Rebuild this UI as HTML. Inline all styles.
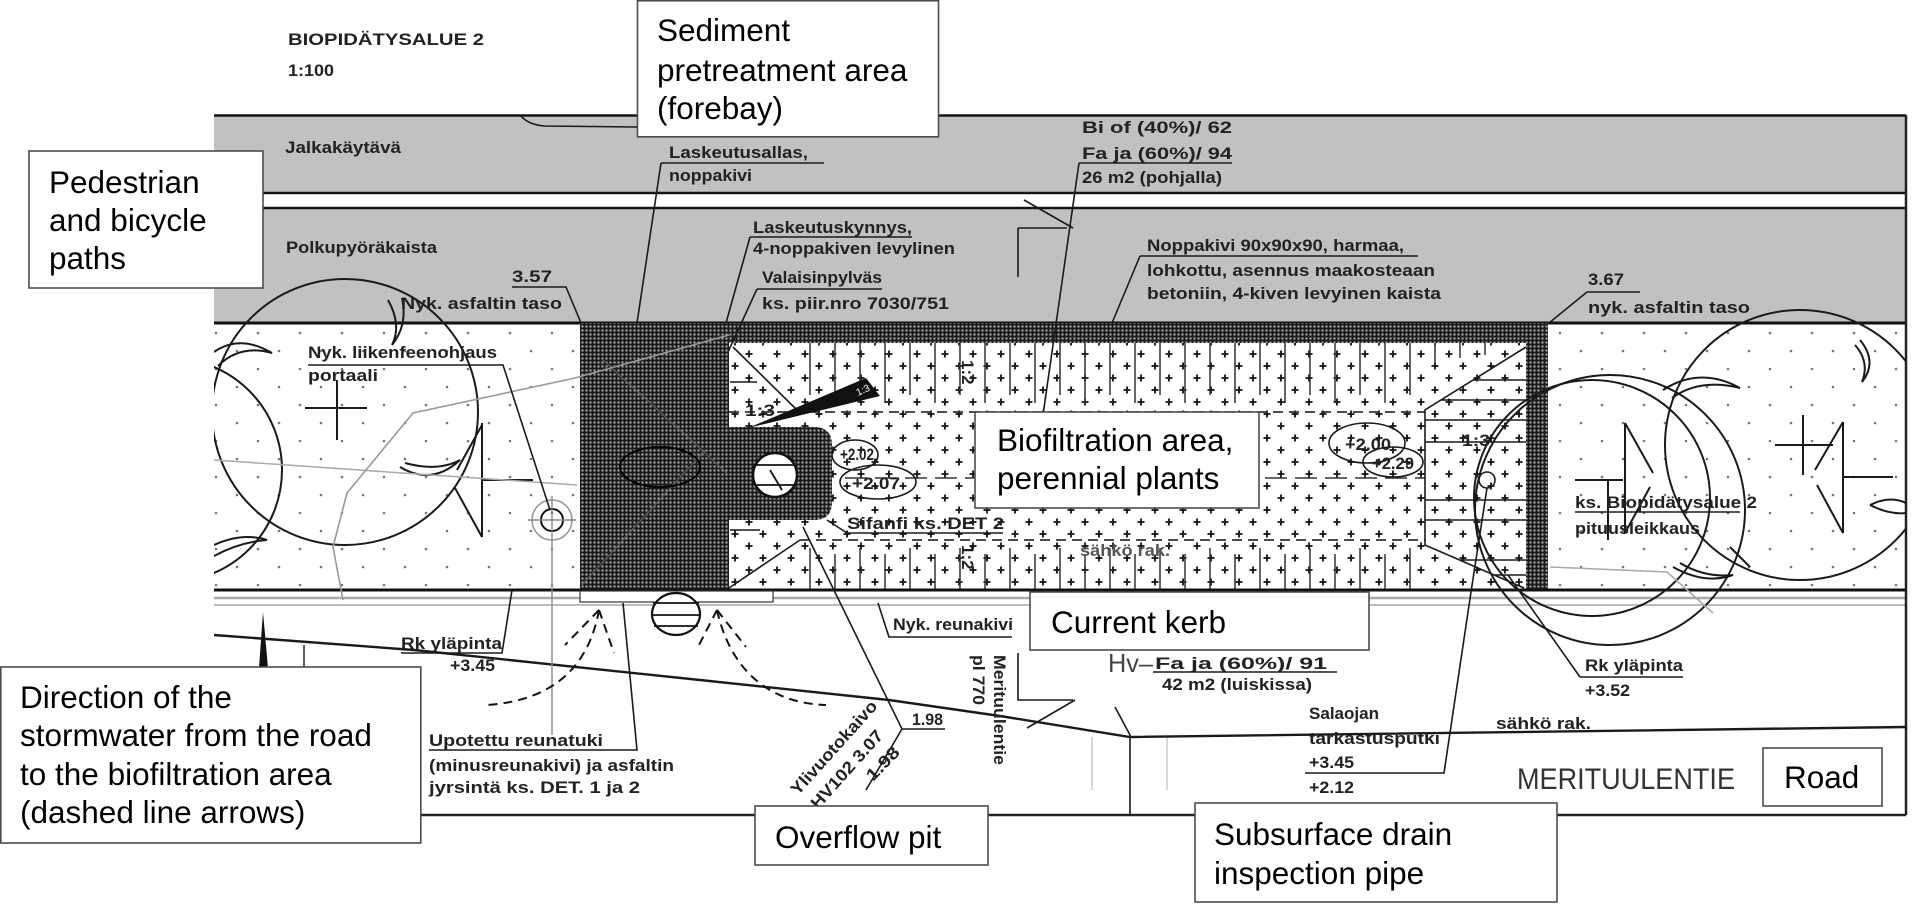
<!DOCTYPE html>
<html><head><meta charset="utf-8"><style>
html,body{margin:0;padding:0;background:#fff;}
svg{display:block;}
.c{font-family:"Liberation Sans",sans-serif;font-weight:bold;font-size:17px;fill:#222;}
.b{font-family:"Liberation Sans",Arial,sans-serif;font-size:31.5px;fill:#000;}
.ln{stroke:#1a1a1a;stroke-width:1.6;fill:none;}
.tr{stroke:#1a1a1a;stroke-width:2;fill:none;}
.box{fill:#fff;stroke:#4d4d4d;stroke-width:1.6;}
</style></head><body>
<svg width="1920" height="911" viewBox="0 0 1920 911" xmlns="http://www.w3.org/2000/svg">
<defs>
<pattern id="mesh" width="4" height="4" patternUnits="userSpaceOnUse"><rect width="4" height="4" fill="#1c1c1c"/><rect x="1.5" y="1.5" width="2" height="2" fill="#b0b0b0"/></pattern>
<pattern id="plus" width="28" height="24" patternUnits="userSpaceOnUse"><path d="M3.5,6h7M7,2.5v7M17.5,18h7M21,14.5v7" stroke="#111" stroke-width="1.8"/></pattern>
<pattern id="dots" width="42" height="36" patternUnits="userSpaceOnUse"><circle cx="6" cy="9" r="1.3" fill="#777"/><circle cx="27" cy="27" r="1.3" fill="#777"/></pattern>
<clipPath id="frame"><rect x="214" y="115" width="1692" height="700"/></clipPath>
</defs>

<!-- gray paths band -->
<rect x="214" y="115" width="1692" height="208" fill="#c1c1c1"/>
<rect x="214" y="194" width="1692" height="13" fill="#fff"/>
<path d="M214,115.5H1906M214,193H1906M214,208H1906" stroke="#151515" stroke-width="2.5"/>
<path d="M214,323H1906" stroke="#111" stroke-width="3"/>
<path d="M520,115 Q528,125 545,126 L637,127" class="ln" stroke-width="1.2"/>

<!-- planting areas -->
<rect x="214" y="324.5" width="366" height="265" fill="url(#dots)"/>
<rect x="1548" y="324.5" width="358" height="265" fill="url(#dots)"/>

<!-- biofilter -->
<rect x="729" y="343" width="797" height="247" fill="#fff"/>
<rect x="729" y="343" width="797" height="247" fill="url(#plus)"/>
<rect x="580" y="323" width="149" height="267" fill="url(#mesh)"/>
<rect x="729" y="323" width="819" height="20" fill="url(#mesh)"/>
<rect x="1526" y="323" width="22" height="267" fill="url(#mesh)"/>
<path d="M603,360 L727,473 M582,585 L705,450" stroke="#555" stroke-width="1.5"/>
<ellipse cx="660" cy="467" rx="40" ry="20" fill="none" stroke="#000" stroke-width="2"/>

<!-- grass lines -->
<path d="M810,343v52M835,343v60M860,343v52M885,343v60M910,343v52M935,343v60M960,343v52M985,343v60M1010,343v52M1035,343v60M1060,343v52M1085,343v60M1110,343v52M1135,343v60M1160,343v52M1185,343v60M1210,343v52M1235,343v60M1260,343v52M1285,343v60M1310,343v52M1335,343v60M1360,343v52M1385,343v60M1410,343v52M1435,343v20M1460,343v15M1485,343v12" stroke="#333" stroke-width="1.5"/>
<path d="M810,590v-42M835,590v-36M860,590v-42M885,590v-36M910,590v-42M935,590v-36M960,590v-42M985,590v-36M1010,590v-42M1035,590v-36M1060,590v-42M1085,590v-36M1110,590v-42M1135,590v-36M1160,590v-42M1185,590v-36M1210,590v-42M1235,590v-36M1260,590v-42M1285,590v-36M1310,590v-42M1335,590v-36M1360,590v-42M1385,590v-36M1410,590v-42" stroke="#333" stroke-width="1.5"/>
<!-- dashed contour lines -->
<path d="M729,412H1425M800,540H1425" stroke="#333" stroke-width="1.8" stroke-dasharray="10,6"/>
<path d="M845,478H1425" stroke="#333" stroke-width="1.6" stroke-dasharray="22,8"/>
<!-- slopes -->
<path d="M733,347 L797,410 M729,588 L800,540 M730,382H757 M730,530H760" class="ln"/>
<path d="M1526,347 L1425,410 V545 L1524,588 M1473,380H1526 M1441,400H1526 M1425,420H1526 M1425,442H1526 M1425,500H1526 M1425,520H1526 M1460,560H1526 M1494,575H1526" class="ln"/>
<text class="c" x="745" y="416" font-size="14" textLength="30" lengthAdjust="spacingAndGlyphs">1:3</text>
<text class="c" x="1462" y="446" font-size="14" textLength="28" lengthAdjust="spacingAndGlyphs">1:3</text>
<text class="c" transform="rotate(90 962 360)" x="962" y="360" font-size="13">1:2</text>
<text class="c" transform="rotate(90 962 545)" x="962" y="545" font-size="13">1:2</text>

<!-- overflow pit -->
<path d="M729,427 H814 Q832,427 832,445 V502 Q832,520 814,520 H729 Z" fill="url(#mesh)"/>
<circle cx="775" cy="475" r="22" fill="#fff" stroke="#111" stroke-width="2.5"/>
<path d="M755,465H795M755,485H795M770,470L782,490" stroke="#111" stroke-width="1.8"/>
<polygon points="748,428 866,378 880,396" fill="#111"/>
<text x="858" y="396" font-family="Liberation Sans" font-size="10" fill="#fff" transform="rotate(-25 858 396)">1:3</text>

<!-- elevation ellipses -->
<ellipse cx="855" cy="455" rx="23" ry="15" class="ln"/>
<ellipse cx="878" cy="482" rx="38" ry="17" class="ln"/>
<text class="c" x="840" y="460" font-size="15" textLength="34" lengthAdjust="spacingAndGlyphs">+2.02</text>
<text class="c" x="852" y="489" font-size="15" textLength="48" lengthAdjust="spacingAndGlyphs">+2.07</text>
<ellipse cx="1367" cy="443" rx="38" ry="20" class="ln"/>
<ellipse cx="1393" cy="462" rx="30" ry="15" class="ln"/>
<text class="c" x="1345" y="450" font-size="16" textLength="46" lengthAdjust="spacingAndGlyphs">+2.00</text>
<text class="c" x="1372" y="469" font-size="14" textLength="42" lengthAdjust="spacingAndGlyphs">+2.29</text>
<circle cx="1487" cy="480" r="8" class="ln"/>

<!-- kerb / frame -->
<path d="M214,590H1906" stroke="#111" stroke-width="3"/>
<path d="M214,598H1906" stroke="#aaa" stroke-width="2.5"/>
<path d="M214,605H1906" stroke="#bbb" stroke-width="2"/>
<rect x="580" y="591" width="193" height="11" fill="#fff" stroke="#333" stroke-width="1.2"/>
<path d="M1906,115V815M214,815H1906" stroke="#222" stroke-width="2.5"/>

<!-- trees -->
<g clip-path="url(#frame)">
<circle cx="345" cy="412" r="133" class="tr"/>
<circle cx="170" cy="470" r="112" class="tr"/>
<path d="M214,352 Q240,334 272,353 Q240,344 218,366" class="tr"/>
<path d="M400,467 Q432,486 460,460 Q438,472 405,463" class="tr"/>
<path d="M214,545 Q242,532 267,540 Q240,542 214,556" class="tr"/>
<path d="M388,300 Q402,325 392,345 Q408,325 402,298" class="tr"/>
<path d="M305,408H367M337,380V440M482,423V537M482,425L457,470M455,488L482,537M482,480H533" class="tr"/>
<circle cx="1610" cy="510" r="135" class="tr"/>
<circle cx="1592" cy="498" r="118" class="tr" stroke-width="1.6"/>
<path d="M1663,390 Q1700,366 1740,388 Q1700,378 1672,398" class="tr"/>
<path d="M1673,567 Q1705,585 1733,575 Q1705,578 1680,563" class="tr"/>
<path d="M1730,547 L1750,567" class="tr"/>
<path d="M1575,480H1623M1608,480V540M1625,423V533M1625,423L1653,473M1650,487L1625,533" class="tr"/>
<circle cx="1800" cy="445" r="135" class="tr"/>
<path d="M1860,340 Q1878,362 1862,382 Q1870,362 1855,345" class="tr"/>
<path d="M1870,505 Q1890,495 1906,503 M1870,505 Q1890,515 1906,513" class="tr"/>
<path d="M1803,415V475M1775,445H1833M1843,422V533M1843,422L1815,470M1817,485L1843,533M1843,477H1893" class="tr"/>
</g>

<!-- faint gray lines -->
<path d="M214,460 L577,485" stroke="#aaa" stroke-width="1.6" fill="none"/>
<path d="M343,600 L333,547 L347,493 L413,413 L575,378 L729,335" stroke="#999" stroke-width="1.6" fill="none"/>
<path d="M1550,567 L1667,572 L1713,613" stroke="#aaa" stroke-width="1.6" fill="none"/>
<path d="M1092,737V790M1167,737V790" stroke="#ccc" stroke-width="1.5"/>

<!-- road area -->
<path d="M214,635 L414,650 L700,680 L889,700 L1000,716 L1130,737 L1906,727" stroke="#1a1a1a" stroke-width="2.4" fill="none"/>
<polygon points="259,668 263,612 268,668" fill="#111"/>
<path d="M304,645V668" stroke="#666" stroke-width="2"/>
<path d="M1115,707 L1130,735 V815" class="ln"/>
<path d="M1018,653V700H1073M1075,700L1027,728" class="ln"/>

<!-- crosshair target -->
<circle cx="552" cy="520" r="20" fill="none" stroke="#999" stroke-width="1.6"/>
<circle cx="552" cy="520" r="11" fill="none" stroke="#111" stroke-width="2"/>
<path d="M528,520H576M552,496V735" stroke="#888" stroke-width="1.4"/>

<!-- dashed arrows -->
<g stroke="#111" stroke-width="2" fill="none" stroke-dasharray="9,6">
<path d="M599,610 C590,660 560,700 487,705"/>
<path d="M599,610 L565,645 M599,610 L614,653"/>
<path d="M717,610 C728,660 760,703 826,705"/>
<path d="M717,610 L699,645 M717,610 L746,647"/>
</g>
<ellipse cx="676" cy="614" rx="24" ry="21" fill="#fff" stroke="#111" stroke-width="2.2"/>
<path d="M653,603H699M652,615H700M654,626H698" stroke="#111" stroke-width="1.8"/>

<!-- leaders -->
<path d="M512,287H566L581,323" class="ln"/>
<path d="M661,163H824M661,163L637,323" class="ln"/>
<path d="M750,237H912M750,237L726,323" class="ln"/>
<path d="M757,289H882M757,289L728,352" class="ln"/>
<path d="M1079,163H1232M1079,163L1043,415" class="ln"/>
<path d="M1018,228V277M1018,228H1067M1024,200L1073,228" class="ln"/>
<path d="M1140,256H1418M1140,256L1112,323" class="ln"/>
<path d="M1587,292H1640M1587,292L1549,323" class="ln"/>
<path d="M308,365H503L550,510" class="ln"/>
<path d="M401,653H502L512,590" class="ln"/>
<path d="M429,750H637L623,603" class="ln"/>
<path d="M878,603L889,637H1012" class="ln"/>
<path d="M803,527L902,729H945M902,729L866,790" class="ln"/>
<path d="M827,520L847,533H1003" class="ln"/>
<path d="M1305,773H1444L1471,592L1487,488" class="ln"/>
<path d="M1580,677H1683M1580,677L1508,575" class="ln"/>
<path d="M1575,512H1740" class="ln" stroke-width="1.2"/>
<path d="M1153,672H1337" class="ln"/>

<!-- CAD text -->
<text class="c" x="288" y="45" font-size="20" textLength="196" lengthAdjust="spacingAndGlyphs">BIOPIDÄTYSALUE 2</text>
<text class="c" x="288" y="76" font-size="20" textLength="46" lengthAdjust="spacingAndGlyphs">1:100</text>
<text class="c" x="285" y="153" textLength="116" lengthAdjust="spacingAndGlyphs">Jalkakäytävä</text>
<text class="c" x="286" y="253" textLength="151" lengthAdjust="spacingAndGlyphs">Polkupyöräkaista</text>
<text class="c" x="512" y="282" textLength="40" lengthAdjust="spacingAndGlyphs">3.57</text>
<text class="c" x="401" y="309" textLength="161" lengthAdjust="spacingAndGlyphs">Nyk. asfaltin taso</text>
<text class="c" x="669" y="158" textLength="139" lengthAdjust="spacingAndGlyphs">Laskeutusallas,</text>
<text class="c" x="669" y="181" textLength="83" lengthAdjust="spacingAndGlyphs">noppakivi</text>
<text class="c" x="753" y="233" textLength="159" lengthAdjust="spacingAndGlyphs">Laskeutuskynnys,</text>
<text class="c" x="753" y="254" textLength="202" lengthAdjust="spacingAndGlyphs">4-noppakiven levylinen</text>
<text class="c" x="762" y="283" textLength="120" lengthAdjust="spacingAndGlyphs">Valaisinpylväs</text>
<text class="c" x="762" y="309" textLength="187" lengthAdjust="spacingAndGlyphs">ks. piir.nro 7030/751</text>
<text class="c" x="1082" y="133" textLength="150" lengthAdjust="spacingAndGlyphs">Bi of (40%)/ 62</text>
<text class="c" x="1082" y="159" textLength="150" lengthAdjust="spacingAndGlyphs">Fa ja (60%)/ 94</text>
<text class="c" x="1082" y="183" textLength="140" lengthAdjust="spacingAndGlyphs">26 m2 (pohjalla)</text>
<text class="c" x="1147" y="251" textLength="257" lengthAdjust="spacingAndGlyphs">Noppakivi 90x90x90, harmaa,</text>
<text class="c" x="1147" y="276" textLength="288" lengthAdjust="spacingAndGlyphs">lohkottu, asennus maakosteaan</text>
<text class="c" x="1147" y="299" textLength="294" lengthAdjust="spacingAndGlyphs">betoniin, 4-kiven levyinen kaista</text>
<text class="c" x="1588" y="285" textLength="36" lengthAdjust="spacingAndGlyphs">3.67</text>
<text class="c" x="1588" y="313" textLength="162" lengthAdjust="spacingAndGlyphs">nyk. asfaltin taso</text>
<text class="c" x="308" y="358" textLength="189" lengthAdjust="spacingAndGlyphs">Nyk. liikenfeenohjaus</text>
<text class="c" x="308" y="381" textLength="70" lengthAdjust="spacingAndGlyphs">portaali</text>
<text class="c" x="1575" y="508" textLength="182" lengthAdjust="spacingAndGlyphs">ks. Biopidätysalue 2</text>
<text class="c" x="1575" y="534" textLength="125" lengthAdjust="spacingAndGlyphs">pituusleikkaus</text>
<text class="c" x="847" y="529" font-size="16" textLength="157" lengthAdjust="spacingAndGlyphs">Sifanfi ks. DET 2</text>
<text class="c" x="1080" y="556" font-size="15" fill="#555" textLength="90" lengthAdjust="spacingAndGlyphs" style="fill:#555">sähkö rak.</text>
<text class="c" x="893" y="630" textLength="120" lengthAdjust="spacingAndGlyphs">Nyk. reunakivi</text>
<text class="c" transform="rotate(90 973 655)" x="973" y="655" font-size="16" textLength="50" lengthAdjust="spacingAndGlyphs">pl 770</text>
<text class="c" transform="rotate(90 994 655)" x="994" y="655" font-size="16" textLength="110" lengthAdjust="spacingAndGlyphs">Merituulentie</text>
<text x="1108" y="672" font-family="Liberation Sans" font-size="26" fill="#444" textLength="45" lengthAdjust="spacingAndGlyphs">Hv–</text>
<text class="c" x="1155" y="669" font-size="17" textLength="172" lengthAdjust="spacingAndGlyphs">Fa ja (60%)/ 91</text>
<text class="c" x="1162" y="690" textLength="150" lengthAdjust="spacingAndGlyphs">42 m2 (luiskissa)</text>
<text class="c" x="401" y="649" textLength="101" lengthAdjust="spacingAndGlyphs">Rk yläpinta</text>
<text class="c" x="450" y="671" textLength="45" lengthAdjust="spacingAndGlyphs">+3.45</text>
<text class="c" x="429" y="746" textLength="174" lengthAdjust="spacingAndGlyphs">Upotettu reunatuki</text>
<text class="c" x="429" y="771" textLength="245" lengthAdjust="spacingAndGlyphs">(minusreunakivi) ja asfaltin</text>
<text class="c" x="429" y="793" textLength="211" lengthAdjust="spacingAndGlyphs">jyrsintä ks. DET. 1 ja 2</text>
<text class="c" x="912" y="725" textLength="31" lengthAdjust="spacingAndGlyphs">1.98</text>
<text class="c" transform="rotate(-46 873 782)" x="873" y="782" textLength="40" lengthAdjust="spacingAndGlyphs">1.98</text>
<text class="c" transform="rotate(-48 798 796)" x="798" y="796" textLength="120" lengthAdjust="spacingAndGlyphs">Ylivuotokaivo</text>
<text class="c" transform="rotate(-48 818 810)" x="818" y="810" textLength="99" lengthAdjust="spacingAndGlyphs">HV102 3.07</text>
<text class="c" x="1585" y="671" textLength="98" lengthAdjust="spacingAndGlyphs">Rk yläpinta</text>
<text class="c" x="1585" y="696" textLength="45" lengthAdjust="spacingAndGlyphs">+3.52</text>
<text class="c" x="1309" y="719" textLength="70" lengthAdjust="spacingAndGlyphs">Salaojan</text>
<text class="c" x="1309" y="744" textLength="131" lengthAdjust="spacingAndGlyphs">tarkastusputki</text>
<text class="c" x="1309" y="768" textLength="45" lengthAdjust="spacingAndGlyphs">+3.45</text>
<text class="c" x="1309" y="793" textLength="45" lengthAdjust="spacingAndGlyphs">+2.12</text>
<text class="c" x="1496" y="729" textLength="95" lengthAdjust="spacingAndGlyphs">sähkö rak.</text>
<text x="1517" y="789" font-family="Liberation Sans" font-size="30" fill="#333" textLength="218" lengthAdjust="spacingAndGlyphs">MERITUULENTIE</text>

<!-- callout boxes -->
<rect class="box" x="637.5" y="0.8" width="301" height="136"/>
<text class="b" x="657" y="41">Sediment</text>
<text class="b" x="657" y="81">pretreatment area</text>
<text class="b" x="657" y="119">(forebay)</text>

<rect class="box" x="29" y="151" width="234" height="137"/>
<text class="b" x="49" y="193">Pedestrian</text>
<text class="b" x="49" y="231">and bicycle</text>
<text class="b" x="49" y="269">paths</text>

<rect class="box" x="975" y="412" width="284" height="96"/>
<text class="b" x="997" y="451">Biofiltration area,</text>
<text class="b" x="997" y="489">perennial plants</text>

<rect class="box" x="1030" y="592" width="339" height="58"/>
<text class="b" x="1051" y="633">Current kerb</text>

<rect class="box" x="0.8" y="667" width="420" height="176"/>
<text class="b" x="20" y="708">Direction of the</text>
<text class="b" x="20" y="746">stormwater from the road</text>
<text class="b" x="20" y="785">to the biofiltration area</text>
<text class="b" x="20" y="823">(dashed line arrows)</text>

<rect class="box" x="755" y="806" width="233" height="59"/>
<text class="b" x="775" y="848">Overflow pit</text>

<rect class="box" x="1195" y="803" width="362" height="99"/>
<text class="b" x="1214" y="845">Subsurface drain</text>
<text class="b" x="1214" y="884">inspection pipe</text>

<rect class="box" x="1763" y="748" width="119" height="58"/>
<text class="b" x="1784" y="788">Road</text>
</svg>
</body></html>
